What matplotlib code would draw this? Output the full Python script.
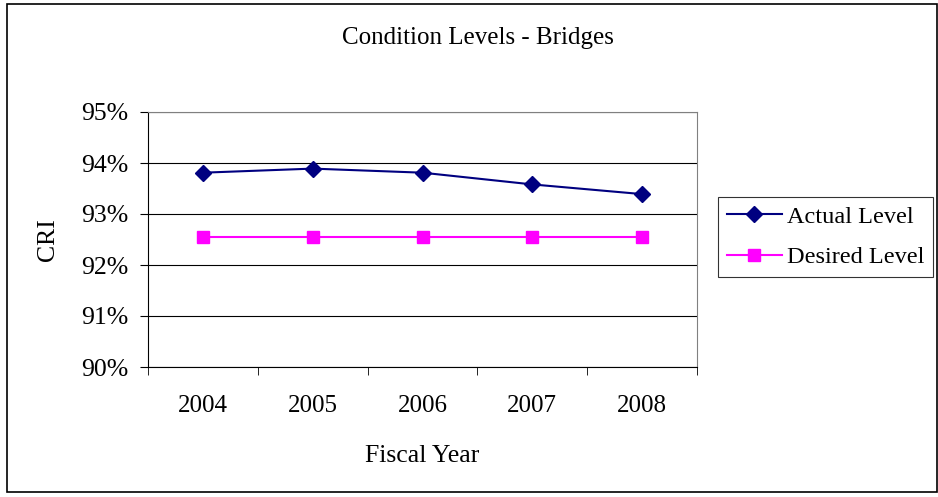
import numpy as np
import matplotlib.pyplot as plt
from matplotlib.patches import Rectangle
from matplotlib.ticker import FixedLocator

years = ["2004", "2005", "2006", "2007", "2008"]
actual_level = [93.81, 93.89, 93.81, 93.58, 93.39]
desired_level = [92.55, 92.55, 92.55, 92.55, 92.55]
y_ticks = [90, 91, 92, 93, 94, 95]

plt.rcParams['font.family'] = ['Liberation Serif', 'DejaVu Serif']

W, H = 938, 497
fig = plt.figure(figsize=(W / 100, H / 100), dpi=100)

# outer chart border
fig.patches.append(Rectangle((7 / W, 1 - 492 / H), 930 / W, 488 / H,
                             transform=fig.transFigure, fill=False,
                             edgecolor='black', linewidth=1.2))

ax = fig.add_axes([148 / W, 1 - 367 / H, 549 / W, 255 / H])
x = np.arange(len(years))

ax.plot(x, actual_level, color='#000080', marker='D', markersize=8,
        linewidth=1.5, label='Actual Level')
ax.plot(x, desired_level, color='#FF00FF', marker='s', markersize=8,
        linewidth=1.5, label='Desired Level')

ax.set_xlim(-0.5, len(years) - 0.5)
ax.set_ylim(90, 95)
ax.set_yticks(y_ticks)
ax.set_yticklabels([f"{t}%" for t in y_ticks], fontsize=18.5)
ax.yaxis.grid(True, color='black', linewidth=0.8)
ax.set_axisbelow(True)

ax.set_xticks(x)
ax.set_xticklabels(years, fontsize=18)
ax.tick_params(axis='x', which='major', length=0, pad=20)
ax.xaxis.set_minor_locator(FixedLocator(np.arange(-0.5, len(years), 1.0)))
ax.tick_params(axis='x', which='minor', length=6, direction='out')
ax.tick_params(axis='y', length=6, direction='out', pad=8)

for side in ['top', 'right']:
    ax.spines[side].set_color('#808080')
ax.spines['left'].set_color('black')
ax.spines['bottom'].set_color('black')

ax.set_xlabel('Fiscal Year', fontsize=18.5, labelpad=20)
ax.set_ylabel('CRI', fontsize=18.5, labelpad=16)

fig.text(478 / W, 1 - 38 / H, 'Condition Levels - Bridges', fontsize=18,
         ha='center', va='center')

leg = fig.legend(loc='center left', bbox_to_anchor=(718 / W, 1 - 237 / H),
                 fontsize=17.5, frameon=True, fancybox=False, edgecolor='black',
                 handlelength=2.3, borderpad=0.35, labelspacing=0.75,
                 handletextpad=0.2, borderaxespad=0)
leg.get_frame().set_linewidth(0.8)

fig.savefig('out.png', dpi=100)
